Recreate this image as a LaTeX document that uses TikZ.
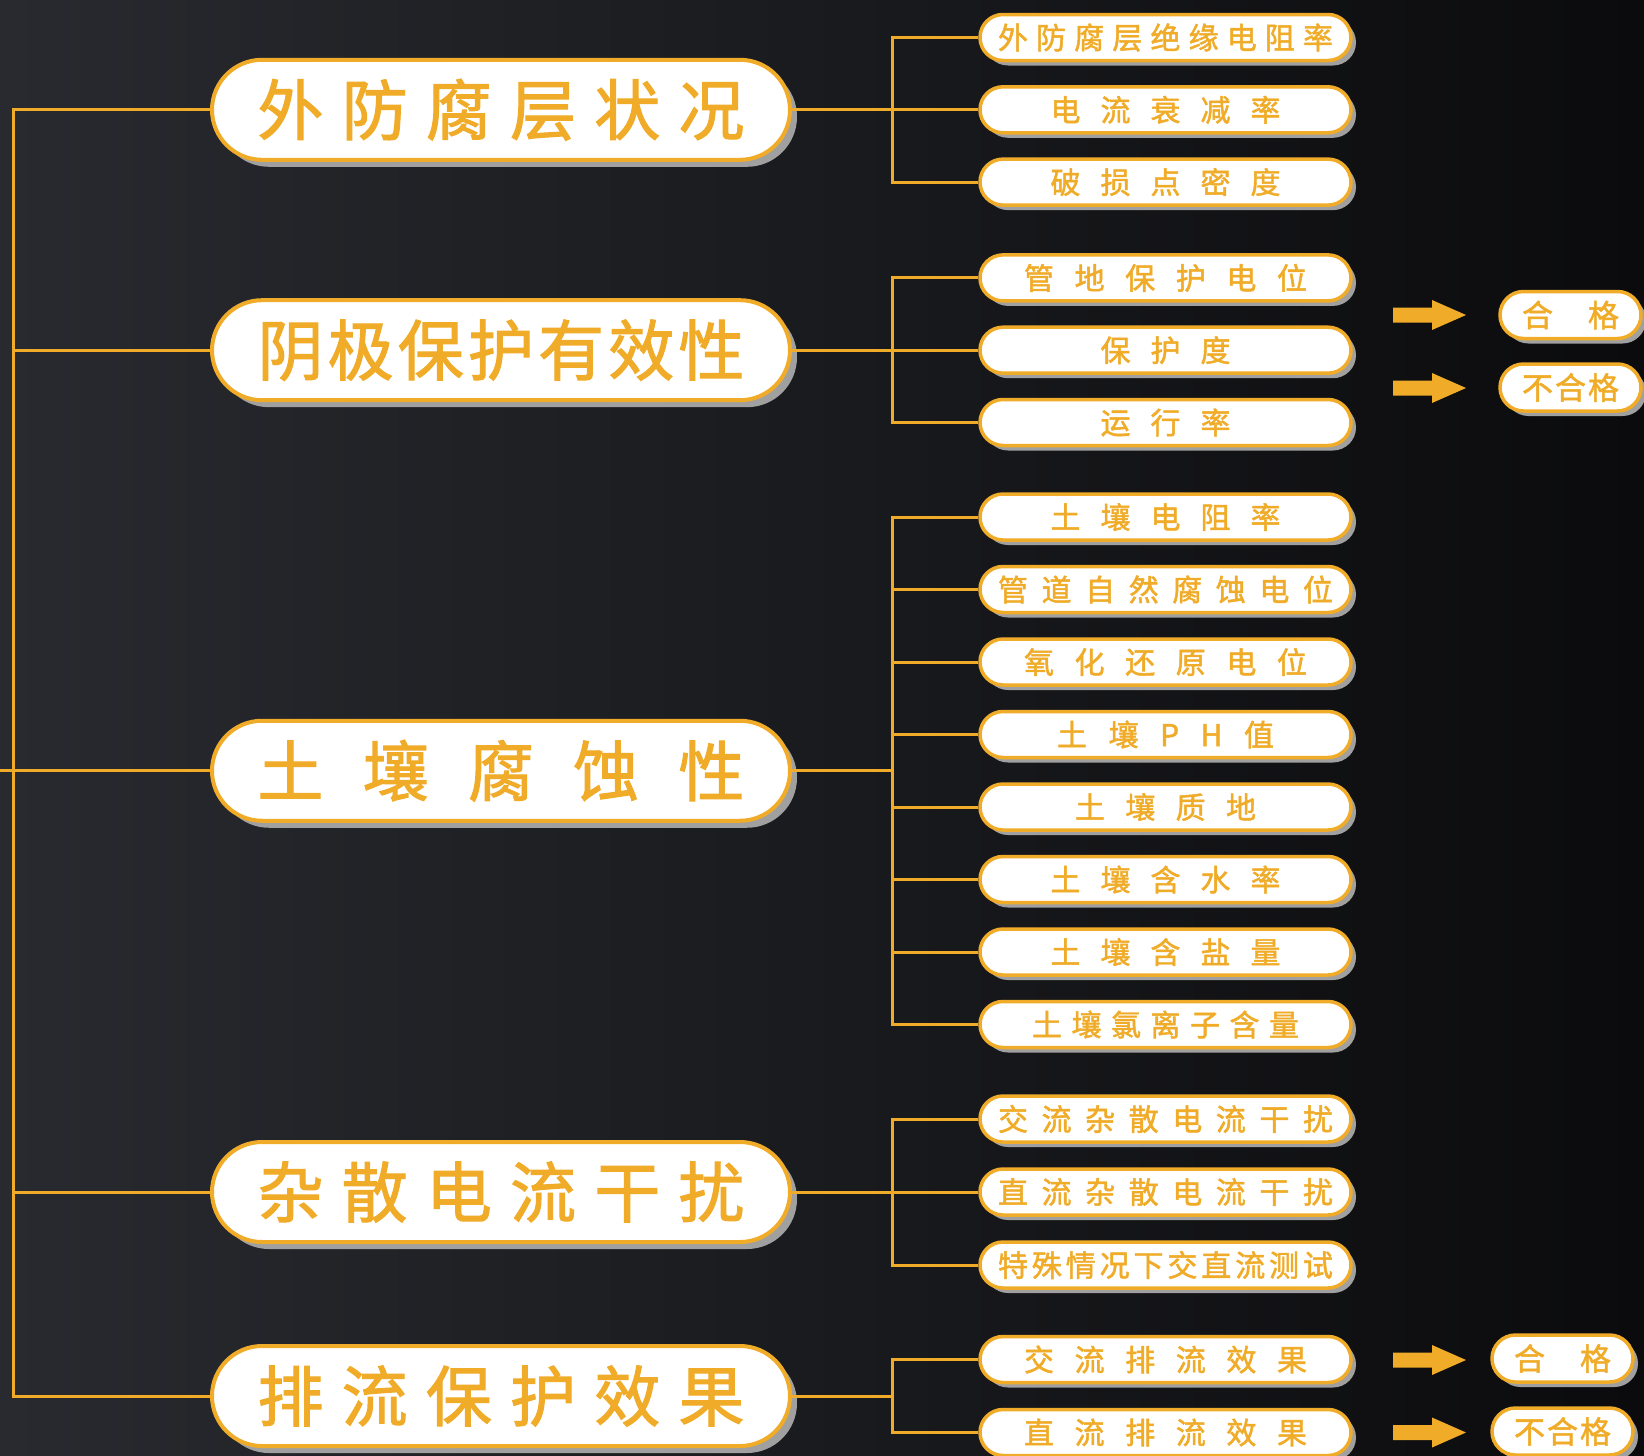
\documentclass[tikz,border=0pt]{standalone}
\usepackage{fontspec}
\newfontfamily\cjk{Noto Sans CJK SC}[FakeBold=1.6]
\usetikzlibrary{shapes.misc,shadows}
\definecolor{org}{RGB}{240,172,40}
\definecolor{bgL}{RGB}{40,42,47}
\definecolor{bgR}{RGB}{11,11,13}
\definecolor{shd}{RGB}{160,160,160}
\makeatletter
\newcommand\spr[2]{\makebox[#1][s]{\@tempswafalse\@tfor\spr@c:=#2\do{\if@tempswa\hfill\fi\spr@c\@tempswatrue}}}
\makeatother
\tikzset{
  pill/.style={rounded rectangle, draw=org, fill=white, text=org, inner sep=0pt},
  mainbox/.style={pill, line width=4pt, minimum width=578pt, minimum height=100pt,
    font=\cjk\fontsize{66}{66}\selectfont,
    drop shadow={shadow xshift=7pt, shadow yshift=-7pt, fill=shd, opacity=1}},
  subbox/.style={pill, line width=3.5pt, minimum width=371pt, minimum height=46pt,
    font=\cjk\fontsize{30}{30}\selectfont,
    drop shadow={shadow xshift=5pt, shadow yshift=-5pt, fill=shd, opacity=1}},
  resbox/.style={pill, line width=3.5pt, minimum width=141pt, minimum height=47pt,
    font=\cjk\fontsize{31}{31}\selectfont,
    drop shadow={shadow xshift=5pt, shadow yshift=-5pt, fill=shd, opacity=1}},
  conn/.style={draw=org, line width=3pt},
  fatarrow/.style={fill=org}
}
\begin{document}
\begin{tikzpicture}[x=1pt,y=-1pt]
\useasboundingbox (0,0) rectangle (1644,1456);
\shade[left color=bgL, right color=bgR] (0,0) rectangle (1644,1456);

% main nodes
\node[mainbox] (m1) at (501,109.8) {\spr{487pt}{外防腐层状况}};
\node[mainbox] (m2) at (501,350.2) {\spr{487pt}{阴极保护有效性}};
\node[mainbox] (m3) at (501,770.75) {\spr{487pt}{土壤腐蚀性}};
\node[mainbox] (m4) at (501,1192) {\spr{487pt}{杂散电流干扰}};
\node[mainbox] (m5) at (501,1396) {\spr{487pt}{排流保护效果}};

% sub nodes
\node[subbox] (c1) at (1165.5,37.5) {\spr{335pt}{外防腐层绝缘电阻率}};
\node[subbox] (c2) at (1165.5,109.8) {\spr{230pt}{电流衰减率}};
\node[subbox] (c3) at (1165.5,182.1) {\spr{230pt}{破损点密度}};
\node[subbox] (c4) at (1165.5,277.9) {\spr{283pt}{管地保护电位}};
\node[subbox] (c5) at (1165.5,350.2) {\spr{130pt}{保护度}};
\node[subbox] (c6) at (1165.5,422.5) {\spr{130pt}{运行率}};
\node[subbox] (c7) at (1165.5,517) {\spr{230pt}{土壤电阻率}};
\node[subbox] (c8) at (1165.5,589.5) {\spr{335pt}{管道自然腐蚀电位}};
\node[subbox] (c9) at (1165.5,662) {\spr{283pt}{氧化还原电位}};
\node[subbox] (c10) at (1165.5,734.5) {\spr{217pt}{土壤PH值}};
\node[subbox] (c11) at (1165.5,807) {\spr{181pt}{土壤质地}};
\node[subbox] (c12) at (1165.5,879.5) {\spr{230pt}{土壤含水率}};
\node[subbox] (c13) at (1165.5,952) {\spr{230pt}{土壤含盐量}};
\node[subbox] (c14) at (1165.5,1024.5) {\spr{267pt}{土壤氯离子含量}};
\node[subbox] (c15) at (1165.5,1119) {\spr{335pt}{交流杂散电流干扰}};
\node[subbox] (c16) at (1165.5,1192) {\spr{335pt}{直流杂散电流干扰}};
\node[subbox] (c17) at (1165.5,1265) {\spr{335pt}{特殊情况下交直流测试}};
\node[subbox] (c18) at (1165.5,1359.5) {\spr{283pt}{交流排流效果}};
\node[subbox] (c19) at (1165.5,1432.5) {\spr{283pt}{直流排流效果}};

% result nodes
\node[resbox] (r1) at (1570.5,315) {\spr{97pt}{合格}};
\node[resbox] (r2) at (1570.5,387.5) {\spr{97pt}{不合格}};
\node[resbox] (r3) at (1562.5,1358.5) {\spr{97pt}{合格}};
\node[resbox] (r4) at (1562.5,1431.5) {\spr{97pt}{不合格}};

% trunk
\coordinate (t) at (13,0);
\coordinate (t0) at (0,770.75);
\draw[conn] (m1.west) -- (m1.west -| t) -- (m5.west -| t) -- (m5.west);
\draw[conn] (m2.west) -- (m2.west -| t);
\draw[conn] (t0) -- (m3.west);
\draw[conn] (m4.west) -- (m4.west -| t);

% buses
\coordinate (b) at (892,0);
\draw[conn] (c1.west) -- (c1.west -| b) -- (c3.west -| b) -- (c3.west);
\draw[conn] (m1.east) -- (m1.east -| b);
\draw[conn] (c2.west) -- (c2.west -| b);

\draw[conn] (c4.west) -- (c4.west -| b) -- (c6.west -| b) -- (c6.west);
\draw[conn] (m2.east) -- (m2.east -| b);
\draw[conn] (c5.west) -- (c5.west -| b);

\draw[conn] (c7.west) -- (c7.west -| b) -- (c14.west -| b) -- (c14.west);
\draw[conn] (m3.east) -- (m3.east -| b);
\foreach \n in {c8,c9,c10,c11,c12,c13} \draw[conn] (\n.west) -- (\n.west -| b);

\draw[conn] (c15.west) -- (c15.west -| b) -- (c17.west -| b) -- (c17.west);
\draw[conn] (m4.east) -- (m4.east -| b);
\draw[conn] (c16.west) -- (c16.west -| b);

\draw[conn] (c18.west) -- (c18.west -| b) -- (c19.west -| b) -- (c19.west);
\draw[conn] (m5.east) -- (m5.east -| b);

% arrows
\coordinate (a1) at (1393,315);
\coordinate (a2) at (1393,388);
\coordinate (a3) at (1393,1360);
\coordinate (a4) at (1393,1432.5);
\foreach \a in {a1,a2,a3,a4}
  \fill[fatarrow,shift={(\a)}] (0,-7.5) -- (39,-7.5) -- (39,-15) -- (73,0) -- (39,15) -- (39,7.5) -- (0,7.5) -- cycle;
\end{tikzpicture}
\end{document}
